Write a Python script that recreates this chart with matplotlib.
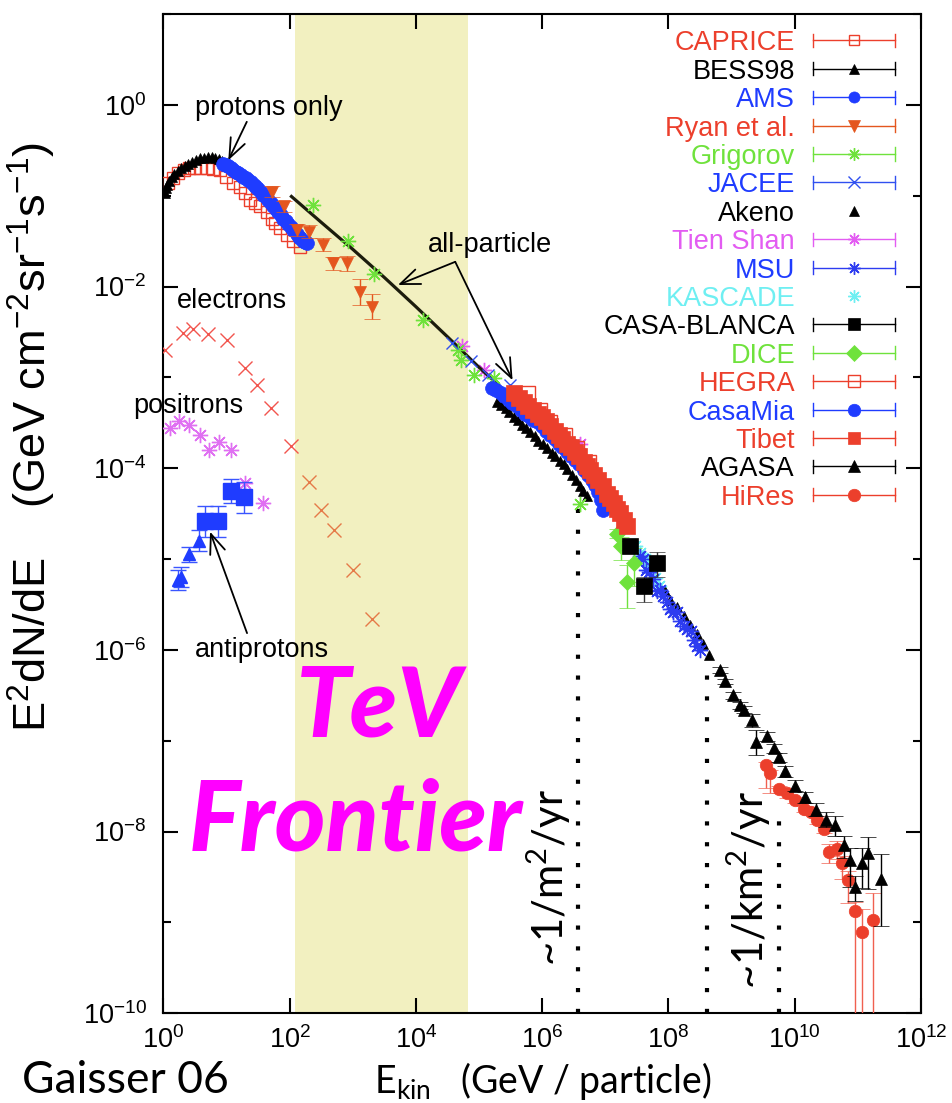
import numpy as np
import matplotlib
matplotlib.use("Agg")
import matplotlib.pyplot as plt
from matplotlib.ticker import FixedLocator, NullFormatter, NullLocator

# ---------------- data (E in GeV, E^2 dN/dE) ----------------
bess_E = [1.05, 1.1, 1.15, 1.25, 1.38, 1.5, 1.7, 1.9, 2.19, 2.5, 2.82, 3.3, 3.8, 4.4, 5.13, 5.8, 6.61, 7.5, 8.51]
bess_F = [0.107, 0.12, 0.132, 0.145, 0.162, 0.173, 0.186, 0.2, 0.214, 0.225, 0.234, 0.248, 0.257, 0.263, 0.269, 0.268, 0.263, 0.252, 0.240]

caprice_E = [1.20, 1.45, 1.74, 2.09, 2.51, 3.02, 3.80, 4.90, 6.17, 7.94, 10.0, 12.9, 16.6, 19.5, 23.4, 28.2,
             33.9, 43.7, 52.5, 58.9, 70.8, 91.2, 115, 148]
caprice_F = [0.138, 0.155, 0.178, 0.191, 0.200, 0.200, 0.204, 0.200, 0.195, 0.191, 0.162, 0.138, 0.126, 0.107,
             0.089, 0.083, 0.076, 0.066, 0.056, 0.050, 0.044, 0.037, 0.032, 0.0275]

ams_E = [8.9, 9.7, 10.5, 11.6, 12.9, 14.2, 15.5, 17, 18.6, 20.3, 22, 24.4, 26.9, 29.4, 32, 35, 38, 42, 46,
         50.5, 55, 60.5, 66, 72.5, 79.4, 87, 95, 105, 115, 130, 140, 148, 165, 175, 186]
ams_F = [0.224, 0.218, 0.21, 0.2, 0.191, 0.183, 0.176, 0.169, 0.162, 0.155, 0.147, 0.14, 0.132, 0.125, 0.117,
         0.11, 0.102, 0.096, 0.089, 0.082, 0.076, 0.071, 0.066, 0.061, 0.056, 0.052, 0.049, 0.045, 0.042,
         0.038, 0.035, 0.034, 0.032, 0.031, 0.030]

ryan_E = [53, 82, 130, 205, 340, 490, 810, 1300, 2000]
ryan_F = [0.11, 0.076, 0.042, 0.040, 0.029, 0.018, 0.018, 0.0087, 0.0060]
ryan_err = [0.06, 0.06, 0.07, 0.07, 0.07, 0.07, 0.08, 0.14, 0.14]

grig_E = [235, 850, 2200, 1.32e4, 4.6e4, 5.1e4, 8.2e4, 1.7e5, 4.0e6]
grig_F = [0.079, 0.032, 0.0138, 0.0043, 0.0020, 0.00155, 0.00107, 9.8e-4, 4.0e-5]

jacee_E = [3.8e4, 7.5e4, 1.4e5, 3.1e5]
jacee_F = [0.0024, 0.0015, 0.00105, 8.3e-4]

akeno_E = [1.95e5, 2.24e5, 2.63e5, 3.02e5, 3.55e5, 4.17e5, 4.79e5, 5.62e5, 6.46e5, 7.59e5, 8.71e5, 1.02e6,
           1.2e6, 1.41e6, 1.62e6, 1.91e6, 2.19e6, 2.51e6, 2.95e6, 3.39e6, 3.98e6, 4.47e6, 5.13e6,
           8.9e7, 1.07e8, 1.38e8, 1.74e8, 2.19e8, 2.82e8, 3.55e8, 4.47e8]
akeno_F = [5.4e-4, 5.0e-4, 4.6e-4, 4.2e-4, 3.7e-4, 3.4e-4, 3.0e-4, 2.75e-4, 2.5e-4, 2.24e-4, 2.0e-4, 1.86e-4,
           1.66e-4, 1.48e-4, 1.35e-4, 1.2e-4, 1.10e-4, 9.8e-5, 8.5e-5, 7.4e-5, 6.3e-5, 5.6e-5, 4.9e-5,
           4.4e-6, 3.5e-6, 2.95e-6, 2.34e-6, 1.86e-6, 1.48e-6, 1.17e-6, 8.9e-7]

tien_E = [5.4e4, 1.2e5, 4.0e6, 8.3e6]
tien_F = [0.0022, 0.0012, 1.87e-4, 7.4e-5]

msu_E = [3.5e7, 3.98e7, 4.47e7, 5.0e7, 5.75e7, 6.61e7, 7.4e7, 8.32e7, 9.5e7, 1.07e8, 1.2e8, 1.35e8, 1.55e8,
         1.74e8, 1.95e8, 2.24e8, 2.5e8, 2.82e8, 3.2e8]
msu_F = [1.07e-5, 1.0e-5, 7.6e-6, 7.2e-6, 6.1e-6, 4.4e-6, 4.6e-6, 3.9e-6, 3.4e-6, 2.8e-6, 2.6e-6, 2.6e-6,
         2.1e-6, 1.85e-6, 1.7e-6, 1.6e-6, 1.3e-6, 1.1e-6, 1.0e-6]

kascade_E = [3.0e7, 3.6e7, 4.2e7, 4.8e7, 5.5e7, 6.2e7, 7.0e7]
kascade_F = [1.41e-5, 1.17e-5, 1.0e-5, 8.5e-6, 8.3e-6, 6.2e-6, 5.0e-6]

casab_E = [2.5e7, 4.1e7, 6.5e7]
casab_F = [1.41e-5, 5.0e-6, 9.1e-6]
casab_dn = [0.05, 0.17, 0.16]
casab_up = [0.05, 0.10, 0.12]

dice_E = [1.55e7, 1.8e7, 2.9e7, 2.2e7]
dice_F = [1.9e-5, 1.38e-5, 9.1e-6, 5.6e-6]
dice_dn = [0.05, 0.15, 0.26, 0.29]
dice_up = [0.05, 0.10, 0.16, 0.19]

hegra_E = [6.0e5, 9.3e5, 1.35e6, 2.34e6, 3.55e6, 5.5e6, 8.9e6]
hegra_F = [6.7e-4, 4.4e-4, 3.2e-4, 2.3e-4, 1.66e-4, 1.17e-4, 6.0e-5]

casamia_E = [1.58e5, 1.86e5, 2.19e5, 2.51e5, 2.95e5, 3.39e5, 3.98e5, 4.57e5, 5.37e5, 6.31e5, 7.24e5, 8.51e5,
             1.0e6, 1.15e6, 1.35e6, 1.58e6, 1.82e6, 2.09e6, 2.45e6, 2.82e6, 3.31e6, 3.89e6, 4.57e6, 5.25e6,
             6.17e6, 6.92e6, 7.76e6, 8.51e6, 9.33e6]
casamia_F = [7.6e-4, 7.2e-4, 6.8e-4, 6.2e-4, 5.6e-4, 5.2e-4, 4.8e-4, 4.4e-4, 4.0e-4, 3.7e-4, 3.4e-4, 3.2e-4,
             2.9e-4, 2.6e-4, 2.3e-4, 2.1e-4, 1.86e-4, 1.7e-4, 1.51e-4, 1.38e-4, 1.23e-4, 1.10e-4, 9.5e-5, 8.5e-5,
             7.4e-5, 6.5e-5, 5.5e-5, 4.5e-5, 3.5e-5]

tibet_E = [3.55e5, 4.27e5, 5.13e5, 6.03e5, 7.24e5, 8.51e5, 1.0e6, 1.15e6, 1.35e6, 1.58e6, 1.82e6, 2.09e6,
           2.45e6, 2.82e6, 3.31e6, 3.89e6, 4.57e6, 5.13e6, 5.75e6, 6.61e6, 7.76e6, 9.12e6, 1.07e7, 1.2e7,
           1.35e7, 1.51e7, 1.74e7, 1.95e7, 2.19e7]
tibet_F = [6.7e-4, 6.0e-4, 5.4e-4, 4.9e-4, 4.4e-4, 4.0e-4, 3.7e-4, 3.3e-4, 2.9e-4, 2.6e-4, 2.3e-4, 2.1e-4,
           1.86e-4, 1.7e-4, 1.51e-4, 1.35e-4, 1.17e-4, 1.07e-4, 9.5e-5, 8.5e-5, 7.4e-5, 6.3e-5, 5.2e-5, 4.7e-5,
           4.1e-5, 3.6e-5, 3.2e-5, 2.7e-5, 2.3e-5]

agasa_E = [6.6e8, 7.9e8, 1.05e9, 1.35e9, 1.58e9, 2.09e9, 2.4e9, 3.63e9, 4.68e9, 5.62e9, 7.08e9, 1.02e10,
           1.48e10, 2.14e10, 3.09e10, 4.37e10, 6.03e10, 7.59e10, 9.12e10, 1.15e11, 1.45e11, 2.29e11]
agasa_F = [6.0e-7, 4.5e-7, 3.16e-7, 2.45e-7, 2.19e-7, 1.70e-7, 9.8e-8, 1.12e-7, 8.3e-8, 6.6e-8, 4.6e-8, 3.2e-8,
           2.4e-8, 1.74e-8, 1.35e-8, 1.17e-8, 7.1e-9, 4.9e-9, 2.45e-9, 4.5e-9, 5.8e-9, 3.0e-9]
agasa_up = [0.03, 0.03, 0.04, 0.04, 0.04, 0.06, 0.13, 0.05, 0.05, 0.05, 0.06, 0.06, 0.06, 0.07, 0.08, 0.10,
            0.10, 0.13, 0.12, 0.17, 0.18, 0.28]
agasa_dn = [0.03, 0.03, 0.04, 0.04, 0.04, 0.08, 0.15, 0.05, 0.05, 0.05, 0.06, 0.06, 0.06, 0.07, 0.08, 0.12,
            0.14, 0.30, 0.15, 0.27, 0.40, 0.52]

hires_E = [3.47e9, 4.07e9, 5.62e9, 7.59e9, 1.02e10, 1.38e10, 1.78e10, 2.29e10, 2.88e10, 3.47e10, 4.68e10,
           5.62e10, 7.08e10, 8.91e10, 1.15e11, 1.74e11]
hires_F = [5.4e-8, 4.4e-8, 2.95e-8, 2.63e-8, 2.24e-8, 1.78e-8, 1.66e-8, 1.35e-8, 1.07e-8, 6.0e-9, 6.5e-9,
           4.5e-9, 2.9e-9, 1.32e-9, 7.9e-10, 1.07e-9]
hires_up = [0.03, 0.03, 0.03, 0.03, 0.03, 0.03, 0.03, 0.04, 0.04, 0.08, 0.08, 0.08, 0.10, 0.10, 0.25, 0.30]
hires_dn = [0.25, 0.22, 0.05, 0.05, 0.04, 0.04, 0.04, 0.05, 0.05, 0.12, 0.12, 0.18, 0.25, 5.0, 5.0, 5.0]

elec_E = [1.07, 2.05, 2.95, 5.1, 10.2, 20, 31, 51, 105]
elec_F = [0.0020, 0.0031, 0.0034, 0.0030, 0.0026, 0.00126, 0.00083, 0.00046, 1.74e-4]
elec2_E = [205, 316, 500, 1020, 2040]
elec2_F = [7.1e-5, 3.5e-5, 2.1e-5, 7.6e-6, 2.2e-6]

posi_E = [1.3, 1.78, 2.6, 3.8, 5.3, 7.6, 11.8, 20, 38]
posi_F = [2.8e-4, 3.3e-4, 3.0e-4, 2.3e-4, 1.6e-4, 1.95e-4, 1.6e-4, 6.9e-5, 4.1e-5]

pbar_tri_E = [1.7, 1.9, 2.6, 3.7]
pbar_tri_F = [5.9e-6, 6.3e-6, 1.13e-5, 1.6e-5]
pbar_tri_err = [0.11, 0.11, 0.08, 0.12]
pbar_sq_E = [4.6, 7.3, 11.8, 19]
pbar_sq_F = [2.6e-5, 2.6e-5, 5.6e-5, 4.8e-5]
pbar_sq_err = [0.17, 0.17, 0.13, 0.17]

allpart_E = [107, 316, 1000, 3160, 1e4, 3.16e4, 1e5, 2e5]
allpart_F = [0.098, 0.051, 0.0257, 0.0126, 0.0060, 0.0028, 0.00129, 8.3e-4]

tev_band = [1.22e2, 6.7e4]

rate_E = [3.64e6, 4.1e8, 5.7e9]
rate_top = [4.9e-5, 6.3e-7, 1.4e-8]

x_tick_exp = [0, 2, 4, 6, 8, 10, 12]
y_tick_exp = [-10, -8, -6, -4, -2, 0]
y_minor_exp = [-9, -7, -5, -3, -1, 1]

legend_names = ["CAPRICE", "BESS98", "AMS", "Ryan et al.", "Grigorov", "JACEE", "Akeno", "Tien Shan", "MSU",
                "KASCADE", "CASA-BLANCA", "DICE", "HEGRA", "CasaMia", "Tibet", "AGASA", "HiRes"]

# ---------------- styles ----------------
RED = "#EC3F2C"
ORANGE = "#E4561E"
BLUE = "#1F3CFF"
GREEN = "#6FE23C"
MAG = "#E35CF2"
CYAN = "#6FEFF2"
AST = (8, 2, 0)

STY = {
    "CAPRICE": dict(color=RED, marker="s", mfc="none", ms=7, mew=1.0, bar=True, tc=RED),
    "BESS98": dict(color="black", marker="^", mfc="black", ms=7, mew=0.5, bar=True, tc="black"),
    "AMS": dict(color=BLUE, marker="o", mfc=BLUE, ms=8, mew=0.5, bar=True, tc=BLUE),
    "Ryan et al.": dict(color=ORANGE, marker="v", mfc=ORANGE, ms=9, mew=0.5, bar=True, tc=RED),
    "Grigorov": dict(color=GREEN, marker=AST, mfc=GREEN, ms=11, mew=1.0, bar=True, tc=GREEN),
    "JACEE": dict(color="#3050F0", marker="x", mfc="#3050F0", ms=9, mew=1.0, bar=True, tc=BLUE),
    "Akeno": dict(color="black", marker="^", mfc="black", ms=7, mew=0.5, bar=False, tc="black"),
    "Tien Shan": dict(color=MAG, marker=AST, mfc=MAG, ms=11, mew=1.0, bar=True, tc=MAG),
    "MSU": dict(color="#2D3CF0", marker=AST, mfc="#2D3CF0", ms=11, mew=1.0, bar=True, tc=BLUE),
    "KASCADE": dict(color=CYAN, marker=AST, mfc=CYAN, ms=11, mew=1.0, bar=False, tc=CYAN),
    "CASA-BLANCA": dict(color="black", marker="s", mfc="black", ms=10, mew=0.5, bar=True, tc="black"),
    "DICE": dict(color=GREEN, marker="D", mfc=GREEN, ms=8, mew=0.5, bar=True, tc=GREEN),
    "HEGRA": dict(color=RED, marker="s", mfc="none", ms=9, mew=1.0, bar=True, tc=RED),
    "CasaMia": dict(color=BLUE, marker="o", mfc=BLUE, ms=9, mew=0.5, bar=True, tc=BLUE),
    "Tibet": dict(color=RED, marker="s", mfc=RED, ms=10, mew=0.5, bar=True, tc=RED),
    "AGASA": dict(color="black", marker="^", mfc="black", ms=8, mew=0.5, bar=True, tc="black"),
    "HiRes": dict(color=RED, marker="o", mfc=RED, ms=9, mew=0.5, bar=True, tc=RED),
}

plt.rcParams["font.family"] = ["Liberation Sans", "DejaVu Sans"]
FS = 19.5

fig = plt.figure(figsize=(9.53, 11.03), dpi=100)
ax = fig.add_axes([0.17135, 0.08133, 0.79507, 0.9060])
ax.set_xscale("log")
ax.set_yscale("log")
ax.set_xlim(1, 1e12)
ax.set_ylim(1e-10, 10)

ax.axvspan(tev_band[0], tev_band[1], color="#F2F0C0", lw=0, zorder=0)


def dex(F, dn, up):
    F = np.asarray(F, float)
    return np.vstack([F * (1 - 10.0 ** (-np.asarray(dn, float))), F * (10.0 ** np.asarray(up, float) - 1)])


def pts(E, F, name, z=3, ms=None):
    s = STY[name]
    ax.plot(E, F, ls="none", marker=s["marker"], color=s["color"], mfc=s["mfc"], mec=s["color"],
            ms=ms or s["ms"], mew=s["mew"], zorder=z)


def errpts(E, F, name, dn, up, z=3, ecolor=None, ms=None):
    s = STY[name]
    ax.errorbar(E, F, yerr=dex(F, dn, up), ls="none", marker=s["marker"], color=s["color"], mfc=s["mfc"],
                mec=s["color"], ms=ms or s["ms"], mew=s["mew"], ecolor=ecolor or s["color"],
                elinewidth=1.0, capsize=6, capthick=1.0, zorder=z)


# low energy
pts(caprice_E, caprice_F, "CAPRICE", z=3, ms=8)
pts(bess_E, bess_F, "BESS98", z=4)
pts(ams_E, ams_F, "AMS", z=4, ms=10)
errpts(ryan_E, ryan_F, "Ryan et al.", ryan_err, ryan_err, z=4)

# all-particle curve
ax.plot(allpart_E, allpart_F, color="#1C1C0C", lw=2.3, zorder=3.5)

pts(grig_E, grig_F, "Grigorov", z=4)
pts(jacee_E, jacee_F, "JACEE", z=4)
pts(tien_E, tien_F, "Tien Shan", z=3)

# knee region
pts(akeno_E, akeno_F, "Akeno", z=3)
pts(hegra_E, hegra_F, "HEGRA", z=3, ms=10)
pts(casamia_E, casamia_F, "CasaMia", z=4, ms=10)
pts(tibet_E, tibet_F, "Tibet", z=5, ms=11)
pts(kascade_E, kascade_F, "KASCADE", z=4)
pts(msu_E, msu_F, "MSU", z=4)
errpts(dice_E, dice_F, "DICE", dice_dn, dice_up, z=4)
errpts(casab_E, casab_F, "CASA-BLANCA", casab_dn, casab_up, z=5, ecolor="#333333", ms=11)

# highest energies
errpts(hires_E, hires_F, "HiRes", hires_dn, hires_up, z=4, ecolor="#F06050")
errpts(agasa_E, agasa_F, "AGASA", agasa_dn, agasa_up, z=5)

# electrons, positrons, antiprotons
ax.plot(elec_E, elec_F, ls="none", marker="x", ms=10, mew=1.0, color="#F2554E", zorder=3)
ax.plot(elec2_E, elec2_F, ls="none", marker="x", ms=10, mew=1.0, color="#E57A48", zorder=3)
ax.plot(posi_E, posi_F, ls="none", marker=AST, ms=11, mew=1.0, color="#E070F2", zorder=3)
ax.errorbar(pbar_tri_E, pbar_tri_F, yerr=dex(pbar_tri_F, pbar_tri_err, pbar_tri_err), ls="none", marker="^",
            ms=8, color=BLUE, ecolor="#3A55FF", elinewidth=1.0, capsize=6, capthick=1.0, zorder=4)
ax.errorbar(pbar_sq_E, pbar_sq_F, yerr=dex(pbar_sq_F, pbar_sq_err, pbar_sq_err), ls="none", marker="s",
            ms=11, color=BLUE, ecolor="#3A55FF", elinewidth=1.0, capsize=6, capthick=1.0, zorder=4)

# dotted rate lines
ax.vlines(rate_E, 1e-10, rate_top, colors="black", linestyles=(0, (1, 4)), lw=3, zorder=2)

# ---------------- axes styling ----------------
ax.set_xticks([10.0 ** k for k in x_tick_exp])
ax.set_xticklabels([r"$\mathregular{10^{%d}}$" % k for k in x_tick_exp])
ax.xaxis.set_minor_locator(NullLocator())
ax.set_yticks([10.0 ** k for k in y_tick_exp])
ax.set_yticklabels([r"$\mathregular{10^{%d}}$" % k for k in y_tick_exp])
ax.yaxis.set_minor_locator(FixedLocator([10.0 ** k for k in y_minor_exp]))
ax.yaxis.set_minor_formatter(NullFormatter())
ax.tick_params(which="both", direction="in", top=True, right=True, width=1.5, labelsize=FS)
ax.tick_params(which="major", length=11)
ax.tick_params(which="minor", length=6)
ax.tick_params(axis="y", which="major", pad=12)
ax.tick_params(axis="x", which="major", pad=9)
for sp in ax.spines.values():
    sp.set_linewidth(1.5)

# ---------------- legend (gnuplot style) ----------------
tx, x0, x1 = 0.8337, 0.8574, 0.9656
xm = 0.5 * (x0 + x1)
top, pitch = 0.9736, 0.02842
cap = 0.0066
for i, name in enumerate(legend_names):
    s = STY[name]
    y = top - i * pitch
    ax.text(tx, y - 0.0100, name, transform=ax.transAxes, ha="right", va="baseline", color=s["tc"], fontsize=FS,
            zorder=10)
    if s["bar"]:
        ax.plot([x0, x1], [y, y], transform=ax.transAxes, color=s["color"], lw=1.0, clip_on=False, zorder=10)
        for xx in (x0, x1):
            ax.plot([xx, xx], [y - cap, y + cap], transform=ax.transAxes, color=s["color"], lw=1.0,
                    clip_on=False, zorder=10)
    ax.plot([xm], [y], transform=ax.transAxes, ls="none", marker=s["marker"], color=s["color"], mfc=s["mfc"],
            mec=s["color"], ms=s["ms"] if s["ms"] < 10 else 9, mew=s["mew"], clip_on=False, zorder=11)

# ---------------- annotations ----------------
arw = dict(arrowstyle="->,head_length=0.7,head_width=0.28", lw=1.3, color="black", shrinkA=0, shrinkB=0,
           mutation_scale=20)
ax.text(3.18, 0.776, "protons only", ha="left", va="baseline", fontsize=FS, zorder=10)
ax.annotate("", xy=(10.7, 0.245), xytext=(21, 0.65), arrowprops=arw, zorder=10)

ax.text(1.57e4, 0.024, "all-particle", ha="left", va="baseline", fontsize=FS, zorder=10)
ax.annotate("", xy=(5.2e3, 0.0104), xytext=(4.2e4, 0.0187), arrowprops=arw, zorder=10)
ax.annotate("", xy=(3.4e5, 9.3e-4), xytext=(4.2e4, 0.0187), arrowprops=arw, zorder=10)

ax.text(1.65, 5.8e-3, "electrons", ha="left", va="baseline", fontsize=FS, zorder=10)
ax.text(0.33, 4.1e-4, "positrons", ha="left", va="baseline", fontsize=FS, zorder=10)
ax.text(3.18, 8.3e-7, "antiprotons", ha="left", va="baseline", fontsize=FS, zorder=10)
ax.annotate("", xy=(5.5, 2.0e-5), xytext=(21.2, 1.53e-6), arrowprops=arw, zorder=10)

ax.text(128, 1.1e-7, "TeV", ha="left", va="baseline", fontsize=70, color="#FF00FF", family="Lato",
        fontweight="black", style="italic", zorder=12)
ax.text(2.55, 6.2e-9, "Frontier", ha="left", va="baseline", fontsize=70, color="#FF00FF", family="Lato",
        fontweight="black", style="italic", zorder=12)

ax.text(1.25e6, 3.15e-9, r"~1/m$^{\mathregular{2}}$/yr", rotation=90, ha="center", va="center", fontsize=30,
        family="Lato", zorder=10)
ax.text(1.85e9, 2.26e-9, r"~1/km$^{\mathregular{2}}$/yr", rotation=90, ha="center", va="center", fontsize=30,
        family="Lato", zorder=10)

# axis labels
fig.text(32 / 953, 1 - 437 / 1103,
         r"E$^{\mathregular{2}}$dN/dE    (GeV cm$^{\mathregular{-2}}$sr$^{\mathregular{-1}}$s$^{\mathregular{-1}}$)",
         rotation=90, ha="center", va="center", fontsize=32.5)
fig.text(543 / 953, 1 - 1093 / 1103, r"E$_{\mathregular{kin}}$   (GeV / particle)", ha="center", va="baseline",
         fontsize=27, family="Lato")
fig.text(22 / 953, 1 - 1093 / 1103, "Gaisser 06", ha="left", va="baseline", fontsize=32, family="Lato")

fig.savefig("out.png", dpi=100)
